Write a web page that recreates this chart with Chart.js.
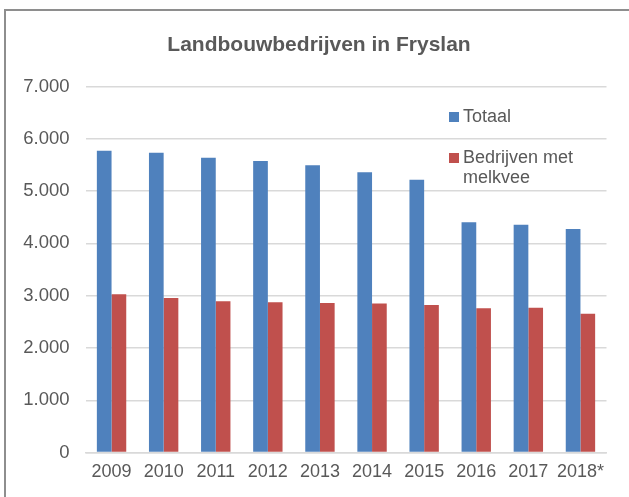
<!DOCTYPE html>
<html>
<head>
<meta charset="utf-8">
<script src="https://cdn.jsdelivr.net/npm/chart.js@4.4.0/dist/chart.umd.min.js"></script>
<style>
  html, body { margin: 0; padding: 0; background: #fff; overflow: hidden; }
  #wrap { position: relative; width: 629px; height: 497px; }
  #frame { position: absolute; left: 4px; top: 9px; width: 700px; height: 600px;
           border-left: 2px solid #8e8e8e; border-top: 2px solid #8e8e8e; }
  canvas { position: absolute; left: 0; top: 0; }
</style>
</head>
<body>
<div id="wrap">
  <div id="frame"></div>
  <canvas id="chart" width="629" height="497"></canvas>
</div>
<script>
const chartTitle = 'Landbouwbedrijven in Fryslan';
const years = ['2009', '2010', '2011', '2012', '2013', '2014', '2015', '2016', '2017', '2018*'];
const totaal = [5772, 5734, 5639, 5576, 5493, 5360, 5218, 4403, 4358, 4275];
const melkvee = [3027, 2956, 2893, 2874, 2860, 2850, 2822, 2759, 2771, 2656];
const seriesNames = ['Totaal', 'Bedrijven met melkvee'];
const legendLines = [['Totaal'], ['Bedrijven met', 'melkvee']];
const seriesColors = ['#4f81bd', '#c0504d'];

const textColor = '#595959';
const fontFamily = '"Liberation Sans", Arial, sans-serif';

// format 7000 -> 7.000
function dutchNumber(v) {
    return String(v).replace(/\B(?=(\d{3})+(?!\d))/g, '.');
}

// title centred on the whole Excel frame, legend inside the plot area
const excelDecor = {
    id: 'excelDecor',
    afterDraw(chart) {
        const ctx = chart.ctx;
        ctx.save();
        ctx.fillStyle = textColor;
        ctx.font = 'bold 21px ' + fontFamily;
        ctx.textAlign = 'center';
        ctx.textBaseline = 'middle';
        ctx.fillText(chartTitle, 319, 45);

        const rows = [117, 158];
        ctx.font = '18px ' + fontFamily;
        ctx.textAlign = 'left';
        legendLines.forEach((lines, i) => {
            ctx.fillStyle = seriesColors[i];
            ctx.fillRect(449, rows[i] - 5, 10, 10);
            ctx.fillStyle = textColor;
            lines.forEach((line, j) => {
                ctx.fillText(line, 463, rows[i] + j * 20);
            });
        });
        ctx.restore();
    }
};

const ctx = document.getElementById('chart').getContext('2d');
new Chart(ctx, {
    type: 'bar',
    data: {
        labels: years,
        datasets: [
            { label: seriesNames[0], data: totaal, backgroundColor: seriesColors[0] },
            { label: seriesNames[1], data: melkvee, backgroundColor: seriesColors[1] }
        ]
    },
    options: {
        responsive: false,
        animation: false,
        categoryPercentage: 0.564,
        barPercentage: 1.0,
        layout: { padding: { left: 0, right: 22.5, top: 86.5, bottom: 0 } },
        plugins: {
            legend: { display: false },
            tooltip: { enabled: false },
            title: { display: false }
        },
        scales: {
            x: {
                grid: { display: false, drawTicks: false },
                border: { display: true, color: '#d9d9d9', width: 1.5 },
                ticks: {
                    color: textColor,
                    font: { family: fontFamily, size: 18 },
                    padding: 9,
                    maxRotation: 0,
                    autoSkip: false
                },
                afterFit(scale) { scale.height = 44.4; }
            },
            y: {
                min: 0,
                max: 7000,
                grid: { color: '#d9d9d9', lineWidth: 1.5, drawTicks: false },
                border: { display: false },
                ticks: {
                    stepSize: 1000,
                    color: textColor,
                    font: { family: fontFamily, size: 18.5 },
                    padding: 16,
                    callback: v => dutchNumber(v)
                },
                afterFit(scale) { scale.width = 85.5; }
            }
        }
    },
    plugins: [excelDecor]
});
</script>
</body>
</html>
